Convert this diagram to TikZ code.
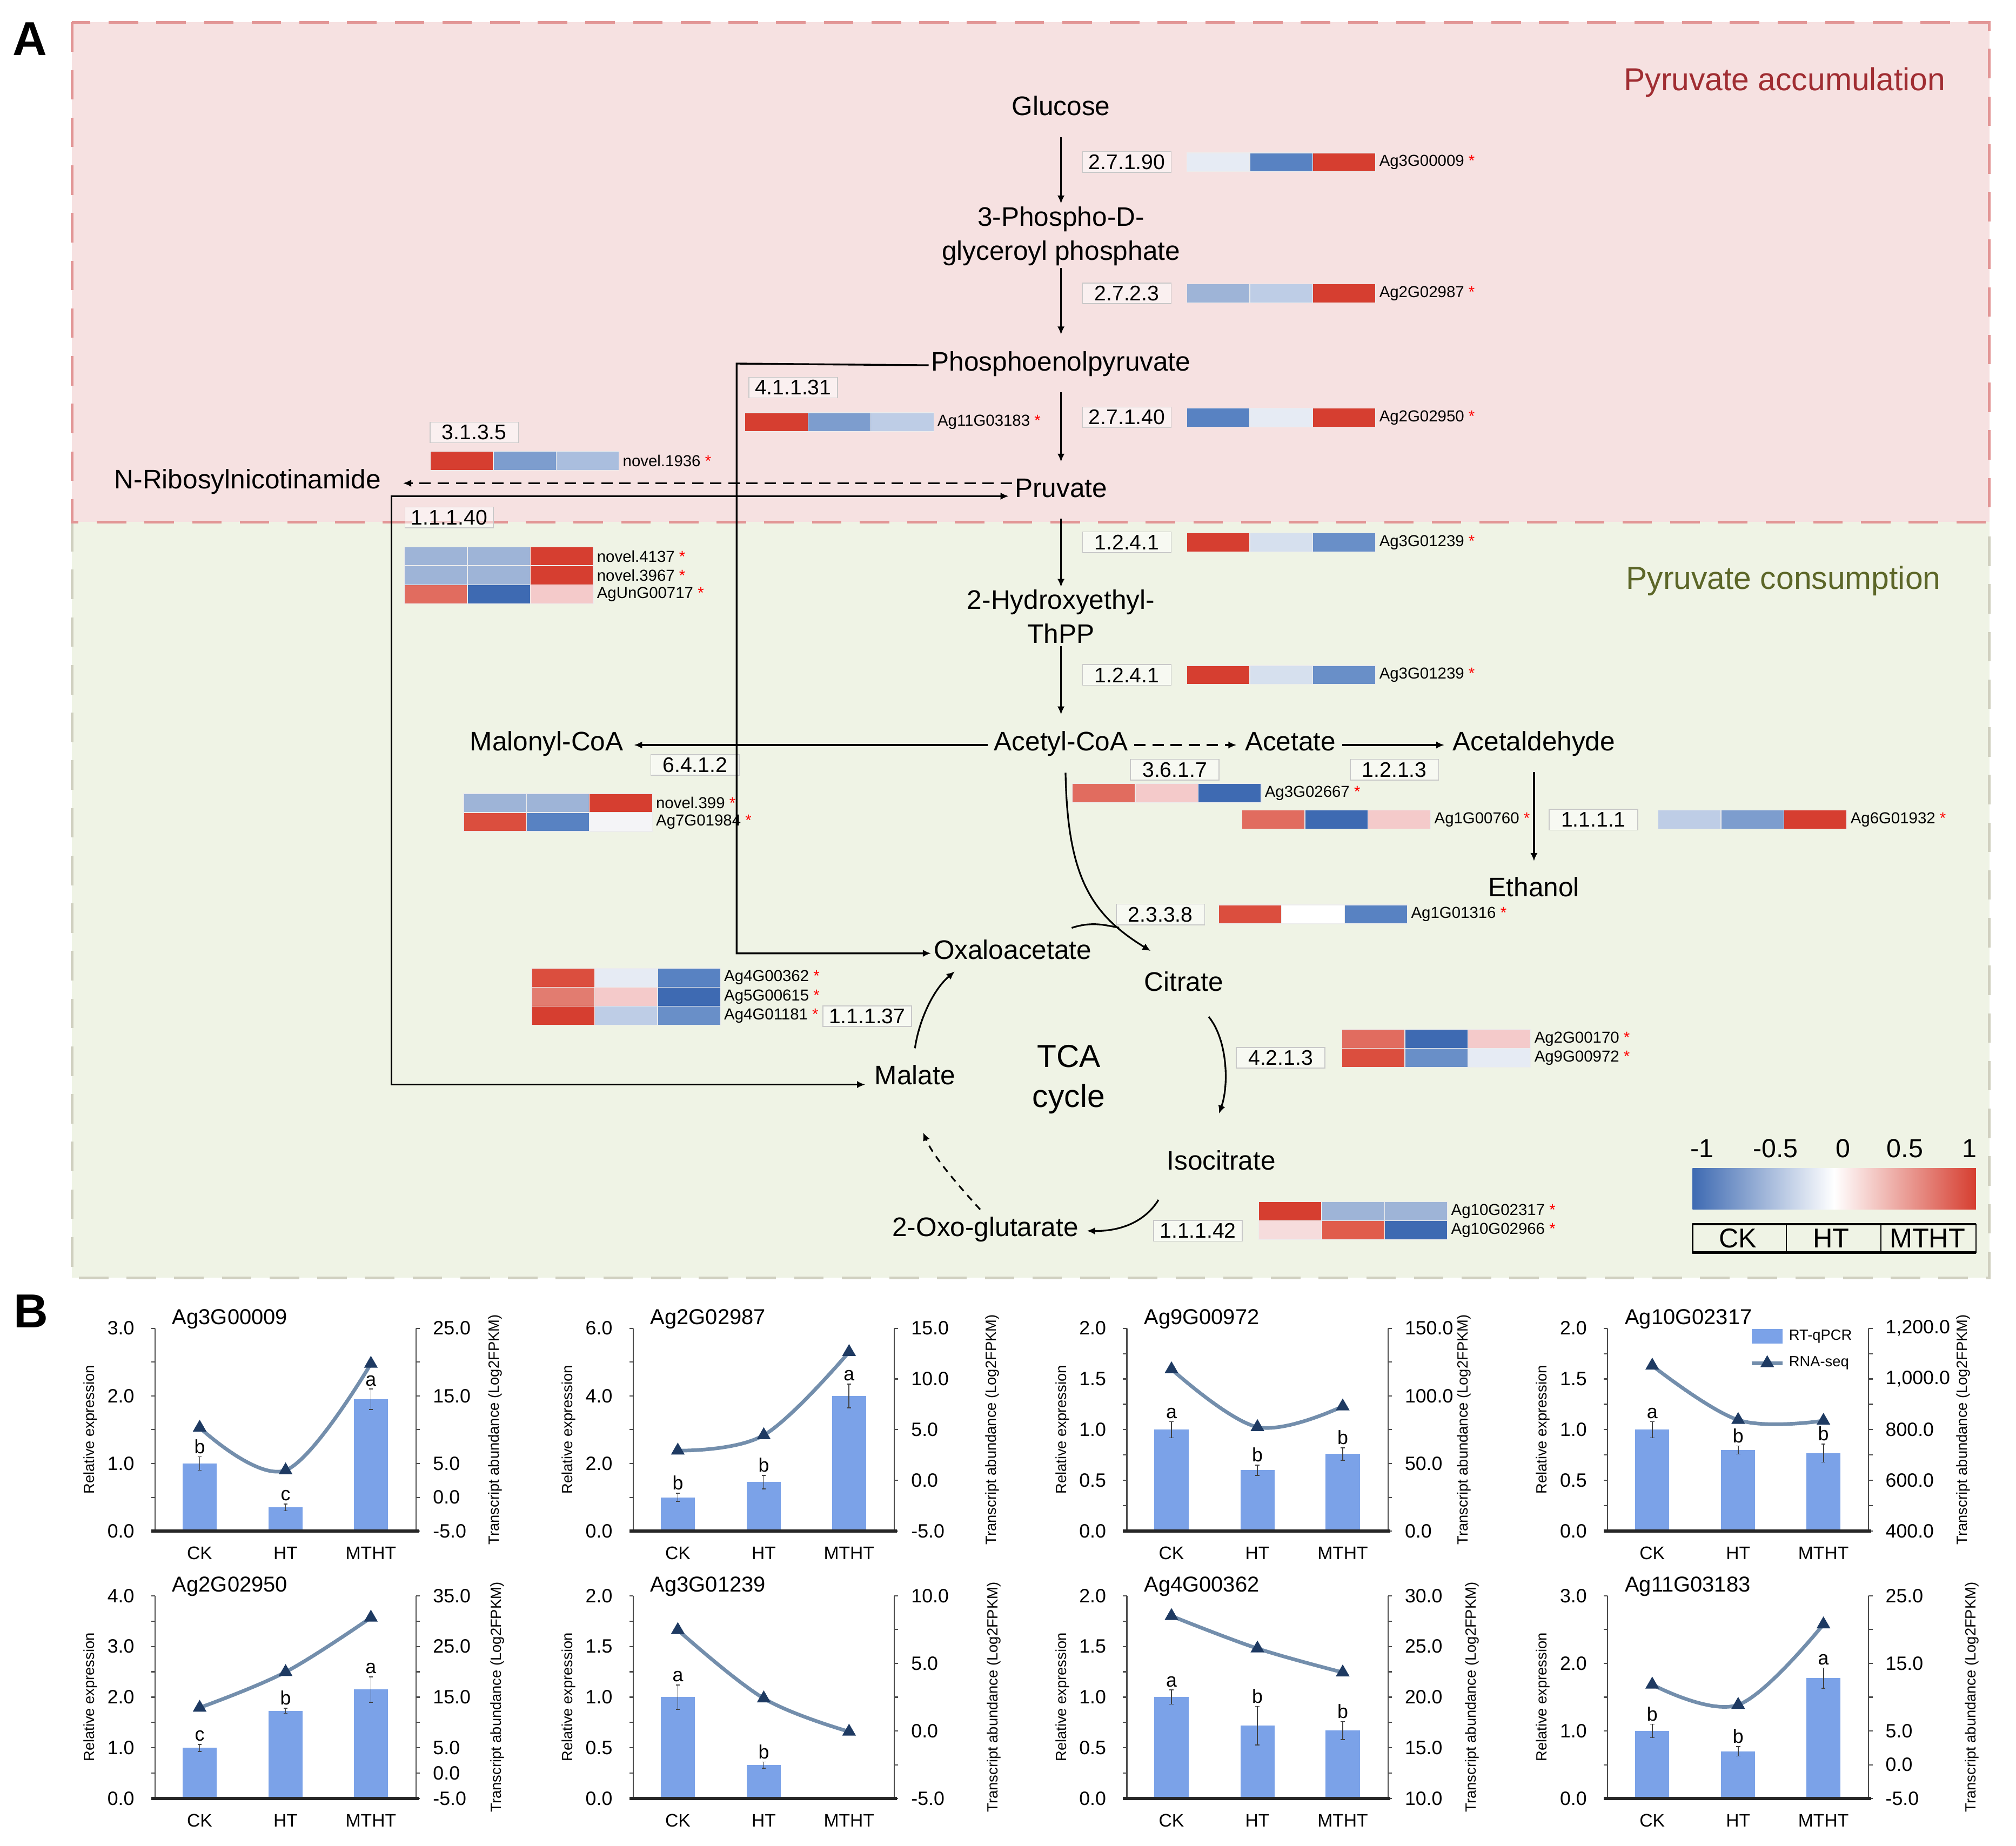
\documentclass[tikz,border=0pt]{standalone}
\usepackage{fontspec}
\setmainfont{Liberation Sans}
\usetikzlibrary{arrows.meta,shapes.geometric,positioning,calc}
\definecolor{pwPinkBg}{RGB}{246,225,225}
\definecolor{pwGreenBg}{RGB}{239,243,229}
\definecolor{pwPinkLine}{RGB}{226,150,150}
\definecolor{pwGreenLine}{RGB}{208,208,192}
\definecolor{pwAccText}{RGB}{160,45,50}
\definecolor{pwConText}{RGB}{92,102,40}
\definecolor{ecBorder}{RGB}{200,200,200}
\definecolor{hmRed}{RGB}{214,62,48}
\definecolor{hmRedB}{RGB}{219,78,62}
\definecolor{hmRedC}{RGB}{224,92,76}
\definecolor{hmSalmon}{RGB}{225,108,95}
\definecolor{hmSalmonB}{RGB}{226,124,112}
\definecolor{hmPink}{RGB}{244,202,202}
\definecolor{hmPaleP}{RGB}{246,220,220}
\definecolor{hmWhite}{RGB}{244,244,247}
\definecolor{hmPaleB}{RGB}{230,235,244}
\definecolor{hmPaleB2}{RGB}{214,224,238}
\definecolor{hmLtB}{RGB}{190,205,230}
\definecolor{hmLtB2}{RGB}{170,190,222}
\definecolor{hmMidB2}{RGB}{158,180,215}
\definecolor{hmMidB}{RGB}{125,157,206}
\definecolor{hmBlueL}{RGB}{105,143,200}
\definecolor{hmBlue}{RGB}{88,130,194}
\definecolor{hmDkB}{RGB}{62,106,178}
\definecolor{qBarCol}{RGB}{123,162,232}
\definecolor{qLineCol}{RGB}{115,142,172}
\definecolor{qTriCol}{RGB}{30,58,98}
\tikzset{
  >={Latex[length=3.6pt,width=3.2pt]},
  met/.style={font=\fontsize{11.8}{15}\selectfont,inner sep=1pt,text height=0.75em,text depth=0.25em},
  met2/.style={font=\fontsize{11.8}{15}\selectfont,inner sep=1pt,align=center},
  tcalab/.style={font=\fontsize{14}{17.6}\selectfont,inner sep=1pt,align=center},
  ec/.style={draw=ecBorder,line width=0.4pt,fill=white,fill opacity=0.5,text opacity=1,font=\fontsize{9.3}{11}\selectfont,minimum width=1.37cm,minimum height=0.32cm,inner sep=0pt},
  gene/.style={font=\fontsize{7}{8}\selectfont,inner sep=0pt,anchor=west},
  hcell/.style={draw=white!85!gray,line width=0.3pt},
  region/.style={font=\fontsize{14}{16}\selectfont,inner sep=1pt},
  panel/.style={font=\fontsize{21}{24}\selectfont\bfseries,inner sep=0pt},
  pinkframe/.style={draw=pwPinkLine,line width=1.1pt,dash pattern=on 13pt off 8pt},
  greenframe/.style={draw=pwGreenLine,line width=1.1pt,dash pattern=on 13pt off 8pt},
  conn/.style={draw,->,line width=0.75pt},
  vconn/.style={conn,shorten <=5.7pt,shorten >=6.9pt},
  hconn/.style={conn,shorten <=1.5pt,shorten >=2.5pt},
  dashconn/.style={conn,dash pattern=on 5pt off 3pt},
  biconn/.style={draw,<->,line width=0.8pt},
  plainconn/.style={draw,line width=0.75pt},
  legnum/.style={font=\fontsize{11.5}{13}\selectfont,inner sep=0pt},
  legcell/.style={font=\fontsize{12}{14}\selectfont,inner sep=0pt},
  qtitle/.style={font=\fontsize{9.5}{11}\selectfont,inner sep=0pt,anchor=west},
  qtick/.style={font=\fontsize{8.5}{10}\selectfont,inner sep=1pt},
  qcat/.style={font=\fontsize{8}{10}\selectfont,inner sep=1pt},
  qylab/.style={font=\fontsize{6.5}{8}\selectfont,inner sep=0pt},
  qleg/.style={font=\fontsize{6.5}{8}\selectfont,inner sep=0pt,anchor=west},
  qletter/.style={font=\fontsize{8.5}{10}\selectfont,inner sep=1.2pt,anchor=south},
  qaxis/.style={draw=black!70,line width=0.5pt},
  qbase/.style={draw=black!85,line width=1.3pt},
  qbar/.style={fill=qBarCol},
  qerr/.style={draw=black!75,line width=0.4pt},
  qline/.style={draw=qLineCol,line width=1.6pt},
  qtri/.style={regular polygon,regular polygon sides=3,fill=qTriCol,inner sep=0pt,minimum size=7pt},
}
% one heat-map row: name, left x, centre y, three cell colours, gene label
\newcommand{\hmrow}[7]{%
  \path[hcell,fill=#4] (#2,{#3-7.3}) rectangle ++(48.7,14.6);
  \path[hcell,fill=#5] ({#2+48.7},{#3-7.3}) rectangle ++(48.7,14.6);
  \path[hcell,fill=#6] ({#2+97.4},{#3-7.3}) rectangle ++(48.7,14.6);
  \node[gene] (#1) at ({#2+148.6},#3) {#7~\textcolor{red}{*}};}
% chart frame: id, left x, baseline y, title, left labels, left ticks, right labels, right ticks, right title offset
\newcommand{\qaxes}[9]{%
  \begin{scope}[shift={(#2,#3)},yscale=-157]
    \node[qtitle] (#1-title) at (13,1.045) {#4};
    \path[qaxis] (0,0) -- (0,1);
    \path[qaxis] (202,0) -- (202,1);
    \foreach \k in {0,...,#6} \path[qaxis] (0,{\k/#6}) -- ++(-3,0);
    \foreach \k in {0,...,#8} \path[qaxis] (202,{\k/#8}) -- ++(3,0);
    \foreach \lab/\f [count=\i] in {#5} \node[qtick,anchor=east] (#1-l\i) at (-14,\f) {\lab};
    \foreach \lab/\f [count=\i] in {#7} \node[qtick,anchor=west] (#1-r\i) at (213,\f) {\lab};
    \path[qbase] (-3,0) -- (204,0);
    \foreach \qc/\cx in {CK/34.5,HT/101,MTHT/167} \node[qcat] (#1-\qc) at (\cx,-0.108) {\qc};
    \node[qylab,rotate=90] (#1-ylab) at (-50,0.5) {Relative expression};
    \node[qylab,rotate=90] (#1-y2lab) at ({202+#9},0.5) {Transcript abundance (Log2FPKM)};
  \end{scope}}
% chart data: id, left x, baseline y, left max, bars x/value/error/letter, RNA-seq points
\newcommand{\qdata}[6]{%
  \begin{scope}[shift={(#2,#3)},yscale=-157]
    \foreach \bx/\bv/\be/\bl [count=\i] in {#5} {
      \fill[qbar] ({\bx-13.2},0) rectangle ({\bx+13.2},{\bv/#4});
      \path[qerr] (\bx,{(\bv-\be)/#4}) -- (\bx,{(\bv+\be)/#4});
      \path[qerr] ({\bx-1.6},{(\bv+\be)/#4}) -- ({\bx+1.6},{(\bv+\be)/#4});
      \path[qerr] ({\bx-1.6},{(\bv-\be)/#4}) -- ({\bx+1.6},{(\bv-\be)/#4});
      \node[qletter] (#1-s\i) at (\bx,{(\bv+\be)/#4}) {\bl};
    }
    \foreach \ya/\yb/\yc in {#6} {
      \draw[qline] plot[smooth,tension=0.6] coordinates {(34.5,\ya) (101,\yb) (167,\yc)};
      \node[qtri] (#1-t1) at (34.5,\ya) {};
      \node[qtri] (#1-t2) at (101,\yb) {};
      \node[qtri] (#1-t3) at (167,\yc) {};
    }
  \end{scope}}
\begin{document}
\begin{tikzpicture}[x=0.02cm,y=-0.02cm]
\useasboundingbox (0,0) rectangle (1560,1428.7);
\fill[white] (0,0) rectangle (1560,1428.7);

% --- Region boxes ----------------------------------------------------------

  \fill[pwPinkBg] (55.7,17.3) rectangle (1539.4,404);
  \fill[pwGreenBg] (55.7,404) rectangle (1539.4,989);
  \path[greenframe] (55.7,404) -- (55.7,989) -- (1539.4,989) -- (1539.4,404);
  \path[pinkframe] (55.7,17.3) rectangle (1539.4,404);

  \node[panel] (panelA) at (23,30) {A};
  \node[panel] (panelB) at (24,1015) {B};

  \node[region,text=pwAccText] (accLabel) at (1381,63.5) {Pyruvate accumulation};
  \node[region,text=pwConText] (conLabel) at (1380,449.6) {Pyruvate consumption};

% --- Metabolites -----------------------------------------------------------

  \node[met] (glu) at (821,84.8) {Glucose};
  \node[met2] (pgp) at (821,182.6) {3-Phospho-D-\\glyceroyl phosphate};
  \node[met] (pep) at (821,282.7) {Phosphoenolpyruvate};
  \node[met] (pyr) at (821,380.5) {Pruvate};
  \node[met] (nrn) at (191.7,374) {N-Ribosylnicotinamide};
  \node[met2] (hte) at (821,477.2) {2-Hydroxyethyl-\\ThPP};
  \node[met] (acoa) at (821,576.6) {Acetyl-CoA};
  \node[met] (mcoa) at (423,576.6) {Malonyl-CoA};
  \node[met] (acet) at (998.5,576.6) {Acetate};
  \node[met] (aald) at (1187,576.6) {Acetaldehyde};
  \node[met] (etoh) at (1187,689.5) {Ethanol};
  \node[met] (oaa) at (783.6,737.8) {Oxaloacetate};
  \node[met] (cit) at (916,762.7) {Citrate};
  \node[tcalab] (tca) at (827,835.4) {TCA\\cycle};
  \node[met] (mal) at (708,835) {Malate};
  \node[met] (icit) at (945,900.9) {Isocitrate};
  \node[met] (oxg) at (762.5,952.6) {2-Oxo-glutarate};

% --- Enzymes ---------------------------------------------------------------

  \node[ec] (ecHk) at (872,125.3) {2.7.1.90};
  \node[ec] (ecPgk) at (872,227) {2.7.2.3};
  \node[ec] (ecPk) at (872,323) {2.7.1.40};
  \node[ec] (ecPepck) at (613.7,300) {4.1.1.31};
  \node[ec] (ecNt) at (367,334.7) {3.1.3.5};
  \node[ec] (ecMe) at (347.6,400.4) {1.1.1.40};
  \node[ec] (ecPdhA) at (872,419.7) {1.2.4.1};
  \node[ec] (ecPdhB) at (872,522.4) {1.2.4.1};
  \node[ec] (ecAcc) at (537.8,592) {6.4.1.2};
  \node[ec] (ecAch) at (909,595.7) {3.6.1.7};
  \node[ec] (ecAldh) at (1079,595.7) {1.2.1.3};
  \node[ec] (ecAdh) at (1233,634.4) {1.1.1.1};
  \node[ec] (ecCs) at (898,707.7) {2.3.3.8};
  \node[ec] (ecMdh) at (671,786.4) {1.1.1.37};
  \node[ec] (ecAco) at (991,818.7) {4.2.1.3};
  \node[ec] (ecIdh) at (927,952.6) {1.1.1.42};

% --- Heat maps -------------------------------------------------------------

  \hmrow{hAg3G00009}{918.4}{125.6}{hmPaleB}{hmBlue}{hmRed}{Ag3G00009}
  \hmrow{hAg2G02987}{918.4}{227}{hmMidB2}{hmLtB}{hmRed}{Ag2G02987}
  \hmrow{hAg2G02950}{918.4}{323.2}{hmBlue}{hmPaleB}{hmRed}{Ag2G02950}
  \hmrow{hAg11G03183}{576.5}{326.7}{hmRed}{hmMidB}{hmLtB}{Ag11G03183}
  \hmrow{hNovel1936}{333}{356.6}{hmRed}{hmMidB}{hmLtB2}{novel.1936}
  \hmrow{hNovel4137}{313}{430.5}{hmMidB2}{hmMidB2}{hmRed}{novel.4137}
  \hmrow{hNovel3967}{313}{445.2}{hmMidB2}{hmMidB2}{hmRed}{novel.3967}
  \hmrow{hAgUnG00717}{313}{459.9}{hmSalmon}{hmDkB}{hmPink}{AgUnG00717}
  \hmrow{hAg3G01239a}{918.4}{419.7}{hmRed}{hmPaleB2}{hmBlueL}{Ag3G01239}
  \hmrow{hAg3G01239b}{918.4}{522.4}{hmRed}{hmPaleB2}{hmBlueL}{Ag3G01239}
  \hmrow{hNovel399}{358.7}{621.5}{hmMidB2}{hmMidB2}{hmRed}{novel.399}
  \hmrow{hAg7G01984}{358.7}{636.2}{hmRedB}{hmBlue}{hmWhite}{Ag7G01984}
  \hmrow{hAg3G02667}{829.8}{613.9}{hmSalmon}{hmPink}{hmDkB}{Ag3G02667}
  \hmrow{hAg1G00760}{961}{634.4}{hmSalmon}{hmDkB}{hmPink}{Ag1G00760}
  \hmrow{hAg6G01932}{1283}{634.4}{hmLtB}{hmMidB}{hmRed}{Ag6G01932}
  \hmrow{hAg1G01316}{943}{707.7}{hmRedB}{white}{hmBlue}{Ag1G01316}
  \hmrow{hAg4G00362}{411.4}{756.7}{hmRedB}{hmPaleB}{hmBlue}{Ag4G00362}
  \hmrow{hAg5G00615}{411.4}{771.4}{hmSalmonB}{hmPink}{hmDkB}{Ag5G00615}
  \hmrow{hAg4G01181}{411.4}{786.1}{hmRed}{hmLtB}{hmBlueL}{Ag4G01181}
  \hmrow{hAg2G00170}{1038.4}{804.1}{hmSalmon}{hmDkB}{hmPink}{Ag2G00170}
  \hmrow{hAg9G00972}{1038.4}{818.8}{hmRedB}{hmBlueL}{hmPaleB}{Ag9G00972}
  \hmrow{hAg10G02317}{974}{937.4}{hmRed}{hmMidB2}{hmMidB2}{Ag10G02317}
  \hmrow{hAg10G02966}{974}{952.1}{hmPaleP}{hmRedC}{hmDkB}{Ag10G02966}

% --- Colour key ------------------------------------------------------------

  \shade[left color=hmDkB,right color=hmRed,middle color=white] (1309.7,904) rectangle (1529,935.8);
  \foreach \v/\x [count=\i] in {-1/1317,-0.5/1374,0/1426,0.5/1474,1/1524}
    \node[legnum] (key\i) at (\x,889) {\v};
  \draw[line width=0.6pt] (1309.7,947.5) rectangle (1529,969.4);
  \draw[line width=1.1pt] (1309.7,947.5) -- (1529,947.5) (1309.7,969.4) -- (1529,969.4);
  \draw[line width=0.6pt] (1382.3,947.5) -- (1382.3,969.4) (1455.5,947.5) -- (1455.5,969.4);
  \node[legcell] (keyCK) at (1344.7,958.5) {CK};
  \node[legcell] (keyHT) at (1417,958.5) {HT};
  \node[legcell] (keyMTHT) at (1491.5,958.5) {MTHT};

% --- Edges -----------------------------------------------------------------

  \path[vconn,shorten <=6pt,shorten >=0pt] (glu) -- (pgp);
  \path[vconn,shorten <=0pt,shorten >=7.3pt] (pgp) -- (pep);
  \path[vconn] (pep) -- (pyr);
  \path[vconn,shorten >=0pt] (pyr) -- (hte);
  \path[vconn,shorten <=0pt,shorten >=7.2pt] (hte) -- (acoa);
  \path[vconn] (aald) -- (etoh);

  \path[hconn,shorten >=3.5pt] (acoa) -- (mcoa);
  \path[hconn,dash pattern=on 5pt off 3pt] (acoa) -- (acet);
  \path[hconn] (acet) -- (aald);

  \path[dashconn,shorten >=8.5pt] (pyr.west |- nrn.east) -- (nrn.east);

  \coordinate (meCorner) at (303,384);
  \path[biconn,shorten <=3pt,shorten >=1.5pt] ([yshift=-2.5pt]mal.west) -| (meCorner) -- (meCorner -| pyr.west);

  \coordinate (pepCorner) at (570,281.4);
  \path[conn,line width=0.8pt] (pep.west) -- (pepCorner) |- (oaa.west);

  \path[conn] ([xshift=2pt,yshift=-6pt]acoa.south) .. controls (826,680) and (845,708) .. ([xshift=4pt,yshift=9pt]cit.north west);
  \path[plainconn] ([xshift=26pt,yshift=5pt]oaa.north) .. controls (845,713) and (855,716) .. (866,718);
  \path[conn] ([xshift=11pt,yshift=-7.6pt]cit.south) .. controls (950,805) and (951,840) .. ([xshift=-1pt,yshift=16pt]icit.north);
  \path[conn] ([xshift=-2.5pt,yshift=-9.6pt]icit.south west) .. controls (885,947) and (865,953) .. ([xshift=2.5pt]oxg.east);
  \path[conn,dash pattern=on 3pt off 2.5pt] ([xshift=-2.3pt,yshift=3.2pt]oxg.north) .. controls (742,918) and (722,895) .. ([xshift=3.6pt,yshift=-17.4pt]mal.south);
  \path[conn] ([yshift=7.3pt]mal.north) .. controls (711,790) and (722,766) .. ([xshift=-25.5pt,yshift=-1.8pt]oaa.south);

% --- Panel B charts --------------------------------------------------------

  \qdata{c1}{120}{1185}{3}{34.5/1.0/0.1/b,101/0.35/0.05/c,167/1.95/0.15/a}{0.51/0.30/0.825}
  \qaxes{c1}{120}{1185}{Ag3G00009}{3.0/1,2.0/0.6667,1.0/0.3333,0.0/0}{6}{25.0/1,15.0/0.6667,5.0/0.3333,0.0/0.1667,-5.0/0}{6}{61}

  \qdata{c2}{490}{1185}{6}{34.5/1.0/0.12/b,101/1.45/0.2/b,167/4.0/0.35/a}{0.397/0.473/0.883}
  \qaxes{c2}{490}{1185}{Ag2G02987}{6.0/1,4.0/0.6667,2.0/0.3333,0.0/0}{6}{15.0/1,10.0/0.75,5.0/0.5,0.0/0.25,-5.0/0}{4}{76}

  \qdata{c3}{872}{1185}{2}{34.5/1.0/0.08/a,101/0.6/0.05/b,167/0.76/0.06/b}{0.798/0.513/0.615}
  \qaxes{c3}{872}{1185}{Ag9G00972}{2.0/1,1.5/0.75,1.0/0.5,0.5/0.25,0.0/0}{8}{150.0/1,100.0/0.6667,50.0/0.3333,0.0/0}{6}{59}

  \qdata{c4}{1244}{1185}{2}{34.5/1.0/0.08/a,101/0.8/0.04/b,167/0.77/0.09/b}{0.816/0.548/0.544}
  \qaxes{c4}{1244}{1185}{Ag10G02317}{2.0/1,1.5/0.75,1.0/0.5,0.5/0.25,0.0/0}{8}{{1,200.0}/1,{1,000.0}/0.75,800.0/0.5,600.0/0.25,400.0/0}{8}{73}

  \fill[qbar] (1355.4,1028.5) rectangle (1379.5,1040);
  \node[qleg] (legQ) at (1384,1034.2) {RT-qPCR};
  \path[qline] (1355.4,1055) -- (1379.5,1055);
  \node[qtri] (legTri) at (1367.5,1055) {};
  \node[qleg] (legR) at (1384,1055) {RNA-seq};

  \qdata{c5}{120}{1392}{4}{34.5/1.0/0.07/c,101/1.73/0.05/b,167/2.15/0.25/a}{0.448/0.624/0.892}
  \qaxes{c5}{120}{1392}{Ag2G02950}{4.0/1,3.0/0.75,2.0/0.5,1.0/0.25,0.0/0}{8}{35.0/1,25.0/0.75,15.0/0.5,5.0/0.25,0.0/0.125,-5.0/0}{8}{63}

  \qdata{c6}{490}{1392}{2}{34.5/1.0/0.12/a,101/0.33/0.03/b}{0.831/0.494/0.33}
  \qaxes{c6}{490}{1392}{Ag3G01239}{2.0/1,1.5/0.75,1.0/0.5,0.5/0.25,0.0/0}{8}{10.0/1,5.0/0.6667,0.0/0.3333,-5.0/0}{6}{77}

  \qdata{c7}{872}{1392}{2}{34.5/1.0/0.07/a,101/0.72/0.19/b,167/0.67/0.09/b}{0.9/0.74/0.622}
  \qaxes{c7}{872}{1392}{Ag4G00362}{2.0/1,1.5/0.75,1.0/0.5,0.5/0.25,0.0/0}{8}{30.0/1,25.0/0.75,20.0/0.5,15.0/0.25,10.0/0}{8}{65}

  \qdata{c8}{1244}{1392}{3}{34.5/1.0/0.1/b,101/0.7/0.07/b,167/1.78/0.15/a}{0.562/0.462/0.859}
  \qaxes{c8}{1244}{1392}{Ag11G03183}{3.0/1,2.0/0.6667,1.0/0.3333,0.0/0}{6}{25.0/1,15.0/0.6667,5.0/0.3333,0.0/0.1667,-5.0/0}{6}{80}

\end{tikzpicture}
\end{document}
